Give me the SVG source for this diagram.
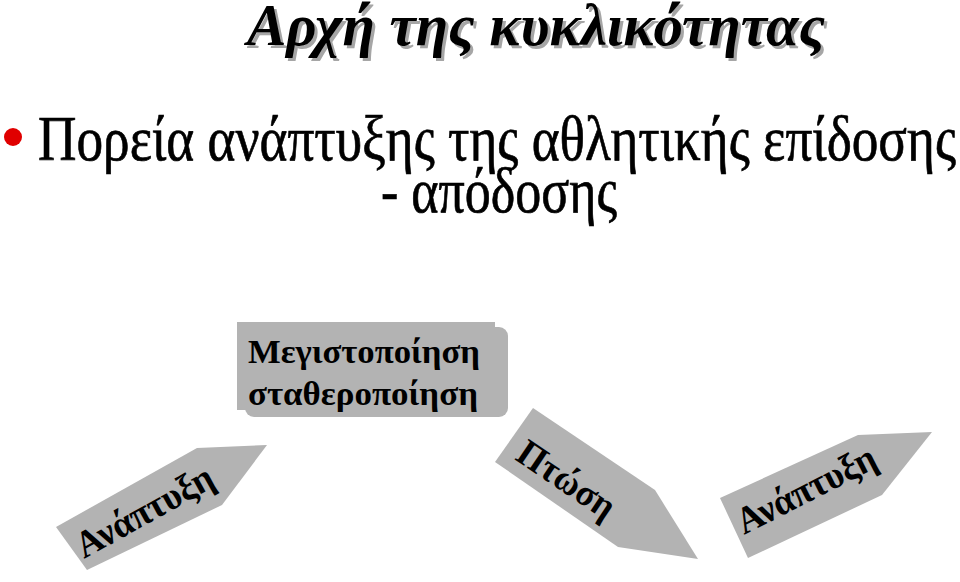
<svg xmlns="http://www.w3.org/2000/svg" width="960" height="582" viewBox="0 0 960 582">
<style>
.title{font-family:"Liberation Serif",serif;font-weight:bold;font-style:italic;font-size:60px}
.body{font-family:"Liberation Serif",serif;font-size:64px;fill:#000;stroke:#000;stroke-width:0.7}
.lbl{font-family:"Liberation Serif",serif;font-weight:bold;font-size:34px;fill:#000}
.alb{font-family:"Liberation Serif",serif;font-weight:bold;font-size:38px;fill:#000}
.shape{fill:#b3b3b3}
</style>
<rect width="960" height="582" fill="#fff"/>
<g id="title">
<text class="title" x="250" y="48" fill="#a6a6a6" textLength="578" lengthAdjust="spacingAndGlyphs">Αρχή της κυκλικότητας</text>
<text class="title" x="247" y="45" fill="#000" textLength="578" lengthAdjust="spacingAndGlyphs">Αρχή της κυκλικότητας</text>
</g>
<g id="bullet">
<circle cx="13" cy="137" r="9" fill="#e00000"/>
<text class="body" x="38" y="160" textLength="918" lengthAdjust="spacingAndGlyphs">Πορεία ανάπτυξης της αθλητικής επίδοσης</text>
<text class="body" x="381" y="212" textLength="236" lengthAdjust="spacingAndGlyphs">- απόδοσης</text>
</g>
<g id="box">
<rect class="shape" x="245" y="327" width="263" height="90" rx="9"/>
<rect class="shape" x="237" y="322" width="258" height="88"/>
<text class="lbl" x="248" y="363" textLength="232" lengthAdjust="spacingAndGlyphs">Μεγιστοποίηση</text>
<text class="lbl" x="248" y="405" textLength="230" lengthAdjust="spacingAndGlyphs">σταθεροποίηση</text>
</g>
<g id="arrow-left">
<polygon class="shape" points="56,527 197,448 267,445 222,505 87,570"/>
<text class="alb" transform="translate(84,559) rotate(-29)" textLength="152" lengthAdjust="spacingAndGlyphs">Ανάπτυξη</text>
</g>
<g id="arrow-mid">
<polygon class="shape" points="533,408 655,490 698,559 618,547 495,462"/>
<text class="alb" transform="translate(514,459) rotate(34)" textLength="110" lengthAdjust="spacingAndGlyphs">Πτώση</text>
</g>
<g id="arrow-right">
<polygon class="shape" points="720,498 858,435 932,432 882,495 748,558"/>
<text class="alb" transform="translate(744,535) rotate(-27)" textLength="152" lengthAdjust="spacingAndGlyphs">Ανάπτυξη</text>
</g>
</svg>
